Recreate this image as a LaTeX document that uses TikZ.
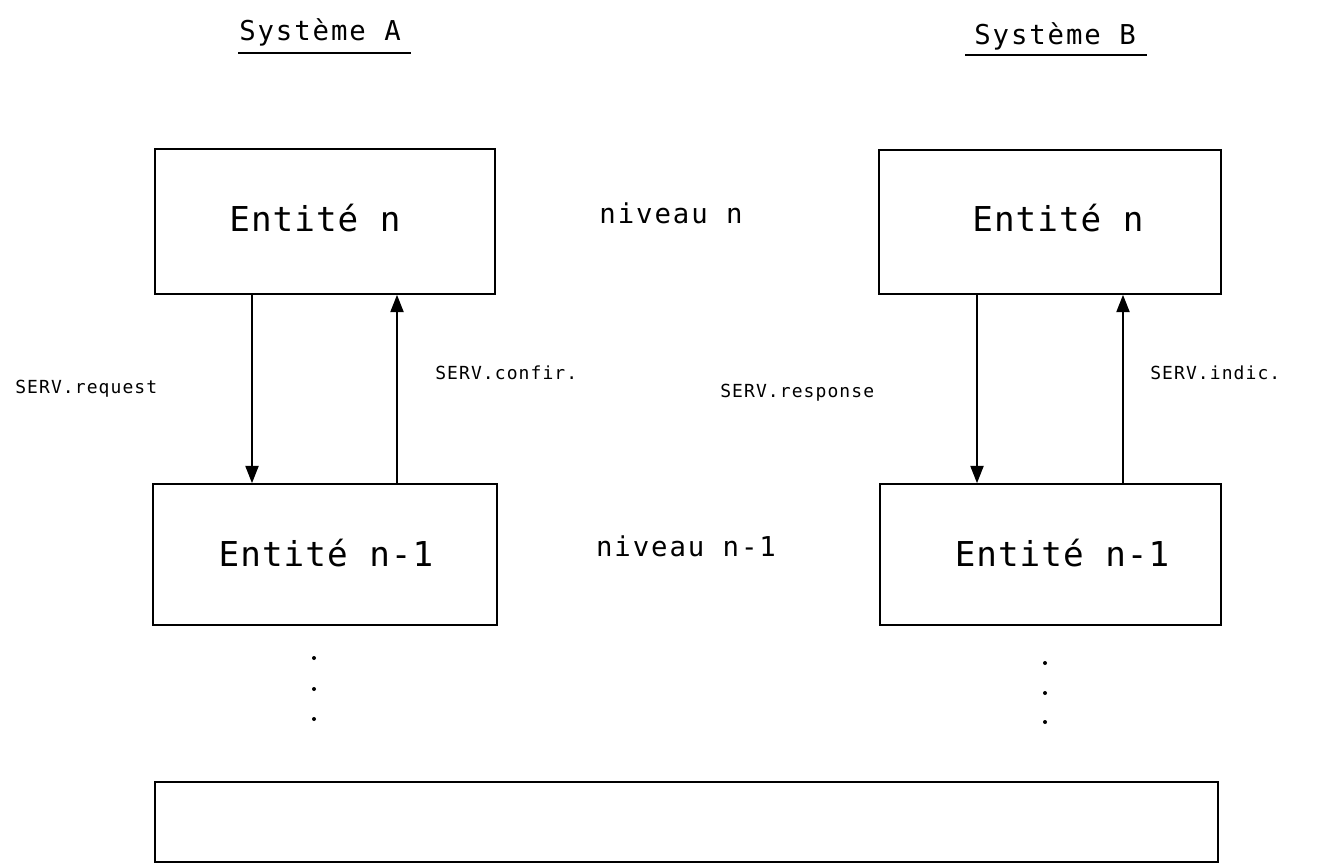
\documentclass[tikz,border=0pt]{standalone}
\usepackage{fontspec}
\usetikzlibrary{arrows.meta}
\newfontfamily\plotbig[LetterSpace=3]{DejaVu Sans Mono}
\newfontfamily\plotmid[LetterSpace=7]{DejaVu Sans Mono}
\newfontfamily\plotsmall[LetterSpace=6]{DejaVu Sans Mono}
\tikzset{
  box/.style={draw, line width=1.3pt, rectangle, inner sep=0pt},
  bigtxt/.style={font=\plotbig\fontsize{25.7}{30}\selectfont, inner sep=0pt, anchor=base},
  midtxt/.style={font=\plotmid\fontsize{20.5}{24}\selectfont, inner sep=0pt, anchor=base},
  smalltxt/.style={font=\plotsmall\fontsize{13.5}{16}\selectfont, inner sep=0pt, anchor=base west},
  arr/.style={line width=0.9pt, -{Triangle[length=13pt,width=10pt]}},
  uline/.style={line width=1pt},
  dotmark/.style={fill=black}
}
\begin{document}
\begin{tikzpicture}[x=0.75pt,y=-0.75pt]
\useasboundingbox (0,0) rectangle (1320,864);
% titles
\node[midtxt] (sA) at (320,40) {Système A};
\node[midtxt] (sB) at (1055,44) {Système B};
\coordinate (uA1) at (238,53); \coordinate (uA2) at (411,53);
\coordinate (uB1) at (965,55); \coordinate (uB2) at (1147,55);
\draw[uline] (uA1) -- (uA2);
\draw[uline] (uB1) -- (uB2);
% boxes
\node[box, minimum width=255pt, minimum height=108.75pt] (At) at (325,221.5) {};
\node[box, minimum width=258pt, minimum height=105.75pt] (Ab) at (325,554.5) {};
\node[box, minimum width=256.5pt, minimum height=108pt] (Bt) at (1050,222) {};
\node[box, minimum width=255.75pt, minimum height=105.75pt] (Bb) at (1050.5,554.5) {};
\node[box, minimum width=797.25pt, minimum height=60pt] (L) at (686.5,822) {};
% box texts
\node[bigtxt] (tAt) at (315,231) {Entité n};
\node[bigtxt] (tBt) at (1058,231) {Entité n};
\node[bigtxt] (tAb) at (326,566) {Entité n-1};
\node[bigtxt] (tBb) at (1062,566) {Entité n-1};
% levels
\node[midtxt] (lvn) at (671,223) {niveau n};
\node[midtxt] (lvn1) at (686,556) {niveau n-1};
% arrows
\coordinate (xa1) at (252,0); \coordinate (xa2) at (397,0);
\coordinate (xb1) at (977,0); \coordinate (xb2) at (1123,0);
\draw[arr] (At.south -| xa1) -- (Ab.north -| xa1);
\draw[arr] (Ab.north -| xa2) -- (At.south -| xa2);
\draw[arr] (Bt.south -| xb1) -- (Bb.north -| xb1);
\draw[arr] (Bb.north -| xb2) -- (Bt.south -| xb2);
% primitive labels
\node[smalltxt] (req) at (15,393) {SERV.request};
\node[smalltxt] (conf) at (435,379) {SERV.confir.};
\node[smalltxt] (resp) at (720,397) {SERV.response};
\node[smalltxt] (ind) at (1150,379) {SERV.indic.};
% dots
\fill[dotmark] (314,658) circle (2);
\fill[dotmark] (314,689) circle (2);
\fill[dotmark] (314,719) circle (2);
\fill[dotmark] (1045,663) circle (2);
\fill[dotmark] (1045,693) circle (2);
\fill[dotmark] (1045,722) circle (2);
\end{tikzpicture}
\end{document}
